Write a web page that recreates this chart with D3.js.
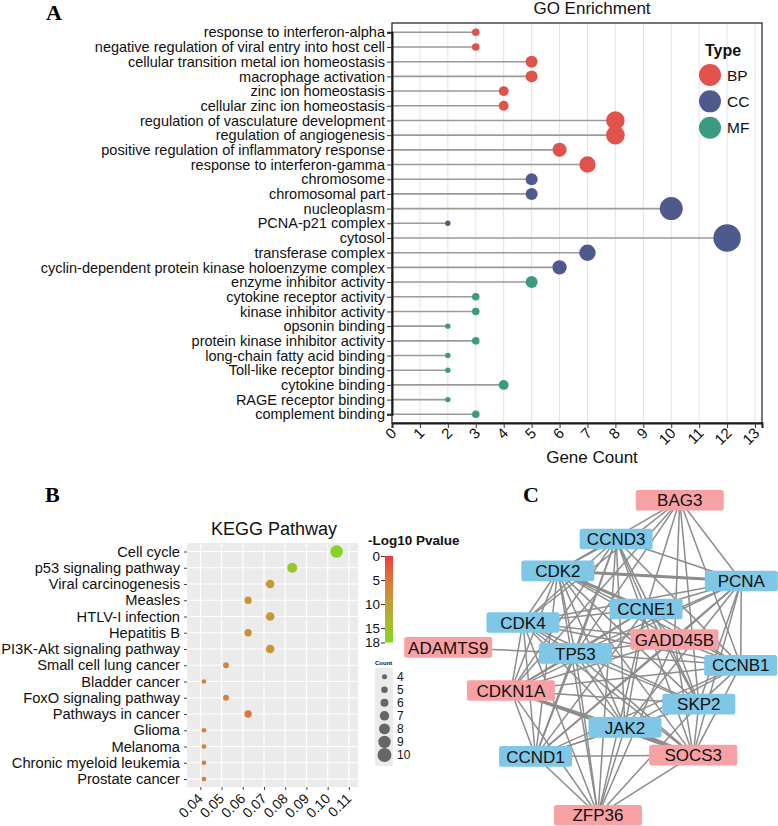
<!DOCTYPE html>
<html><head><meta charset="utf-8">
<script src="https://cdn.jsdelivr.net/npm/d3@7"></script>
<style>
body{margin:0;background:#fff}
svg{display:block}
</style>
</head><body>
<svg id="chart" width="778" height="826"></svg>
<script>
// ---------- Panel A : GO enrichment ----------
const goTerms = [
 "response to interferon-alpha","negative regulation of viral entry into host cell",
 "cellular transition metal ion homeostasis","macrophage activation","zinc ion homeostasis",
 "cellular zinc ion homeostasis","regulation of vasculature development","regulation of angiogenesis",
 "positive regulation of inflammatory response","response to interferon-gamma",
 "chromosome","chromosomal part","nucleoplasm","PCNA-p21 complex","cytosol","transferase complex",
 "cyclin-dependent protein kinase holoenzyme complex",
 "enzyme inhibitor activity","cytokine receptor activity","kinase inhibitor activity","opsonin binding",
 "protein kinase inhibitor activity","long-chain fatty acid binding","Toll-like receptor binding",
 "cytokine binding","RAGE receptor binding","complement binding"];
const goCounts = [3,3,5,5,4,4,8,8,6,7, 5,5,10,2,12,7,6, 5,3,3,2,3,2,2,4,2,3];
const goTypes = ["BP","BP","BP","BP","BP","BP","BP","BP","BP","BP",
 "CC","CC","CC","CC","CC","CC","CC",
 "MF","MF","MF","MF","MF","MF","MF","MF","MF","MF"];
const goTypeNames = ["BP","CC","MF"];
const goTypeColors = ["#E0524A","#4E5A8D","#3A9B82"];
const goXTicks = [0,1,2,3,4,5,6,7,8,9,10,11,12,13];

// ---------- Panel B : KEGG ----------
const keggPathways = ["Cell cycle","p53 signaling pathway","Viral carcinogenesis","Measles","HTLV-I infection",
 "Hepatitis B","PI3K-Akt signaling pathway","Small cell lung cancer","Bladder cancer","FoxO signaling pathway",
 "Pathways in cancer","Glioma","Melanoma","Chronic myeloid leukemia","Prostate cancer"];
const keggRatio = [0.1042,0.0833,0.0729,0.0625,0.0729,0.0625,0.0729,0.0521,0.0417,0.0521,0.0625,0.0417,0.0417,0.0417,0.0417];
const keggCount = [10,8,7,6,7,6,7,5,4,5,6,4,4,4,4];
const keggLogP  = [17.5,15.8,9.2,8.2,8.8,8.0,8.6,7.0,6.0,6.4,5.0,5.6,5.6,5.6,5.6];
const keggXTicks = [0.04,0.05,0.06,0.07,0.08,0.09,0.10,0.11];
const keggColorTicks = [0,5,10,15,18];
const keggCountTicks = [4,5,6,7,8,9,10];

// ---------- Panel C : PPI network ----------
const netGenes = ["BAG3","CCND3","CDK2","PCNA","CCNE1","CDK4","GADD45B","ADAMTS9","TP53","CCNB1",
 "CDKN1A","SKP2","JAK2","CCND1","SOCS3","ZFP36"];
const netGroup = ["down","up","up","up","up","up","down","down","up","up","down","up","up","up","down","down"];
// layout units (0-100 grid)
const netLayoutX = [79,57.3,37.4,100,67.5,25.5,77.2,0,43.4,99.8,21.4,85.5,60.3,29.8,83.6,51.1];
const netLayoutY = [0,12.3,22.4,25.6,34.5,38.8,44.2,46.7,48.6,52.4,60.4,64.7,72.1,81.3,80.9,100];
const netEdges = [
 ["CDK2","CDK4",1],["CDK2","CCND1",1],["CDK2","CCND3",1],["CDK2","CCNE1",2],["CDK2","CCNB1",1],["CDK2","PCNA",2],
 ["CDK2","TP53",1],["CDK2","CDKN1A",1],["CDK2","SKP2",1],["CDK2","GADD45B",1],
 ["CDK4","CCND1",1],["CDK4","CCND3",1],["CDK4","CCNE1",1],["CDK4","CCNB1",1],["CDK4","PCNA",1],["CDK4","TP53",1],
 ["CDK4","CDKN1A",1],["CDK4","SKP2",1],["CDK4","GADD45B",1],
 ["CCND1","CCND3",1],["CCND1","CCNE1",1],["CCND1","CCNB1",1],["CCND1","PCNA",1],["CCND1","TP53",1],["CCND1","CDKN1A",1],
 ["CCND1","SKP2",1],["CCND1","GADD45B",1],
 ["CCND3","CCNE1",1],["CCND3","CCNB1",1],["CCND3","PCNA",1],["CCND3","TP53",1],["CCND3","CDKN1A",1],["CCND3","SKP2",1],
 ["CCNE1","CCNB1",1],["CCNE1","PCNA",1],["CCNE1","TP53",1],["CCNE1","CDKN1A",1],["CCNE1","SKP2",1],["CCNE1","GADD45B",1],
 ["CCNB1","PCNA",1],["CCNB1","TP53",1],["CCNB1","CDKN1A",1],["CCNB1","SKP2",1],["CCNB1","GADD45B",1],
 ["PCNA","TP53",1],["PCNA","CDKN1A",1],["PCNA","SKP2",1],["PCNA","GADD45B",1],
 ["TP53","CDKN1A",1],["TP53","SKP2",1],["TP53","GADD45B",1],
 ["CDKN1A","SKP2",1],["CDKN1A","GADD45B",1],["SKP2","GADD45B",1],
 ["BAG3","CDK2",1],["BAG3","CDK4",1],["BAG3","TP53",1],["BAG3","CCNE1",1],["BAG3","PCNA",1],["BAG3","CCNB1",1],
 ["BAG3","CDKN1A",1],["BAG3","SKP2",1],["BAG3","GADD45B",1],
 ["ADAMTS9","TP53",1],
 ["JAK2","TP53",1],["JAK2","SOCS3",2],["JAK2","CCND1",1],["JAK2","CDKN1A",1],["JAK2","CCND3",1],["JAK2","CDK4",1],
 ["JAK2","CDK2",1],["JAK2","CCNE1",1],["JAK2","PCNA",1],["JAK2","SKP2",1],["JAK2","CCNB1",1],["JAK2","ZFP36",1],
 ["SOCS3","TP53",1],["SOCS3","CCND1",1],["SOCS3","CDKN1A",2],["SOCS3","CCND3",1],["SOCS3","CDK2",1],["SOCS3","CDK4",1],
 ["SOCS3","PCNA",1],["SOCS3","CCNB1",1],["SOCS3","SKP2",1],["SOCS3","ZFP36",1],["SOCS3","GADD45B",1],
 ["ZFP36","TP53",1],["ZFP36","CDKN1A",1],["ZFP36","CCND1",1],["ZFP36","CDK4",1],["ZFP36","CDK2",1],
 ["ZFP36","CCND3",1],["ZFP36","GADD45B",1],["ZFP36","CCNE1",1],["ZFP36","SKP2",1]
];

const sans = '"Liberation Sans",Arial,Helvetica,sans-serif';
const serif = '"Liberation Serif","Times New Roman",serif';
const svg = d3.select("#chart").style("font-family",sans);
svg.append("rect").attr("width",778).attr("height",826).attr("fill","#fff");

function styleText(sel,size){
  sel.attr("font-size",size).attr("fill","#111").attr("font-family",sans);
}

// ================= Panel A =================
(function(){
  const L=392, R=762, T=23, B=423;
  const x = d3.scaleLinear().domain([0,13.25]).range([L,R]);
  const y = d3.scalePoint().domain(goTerms).range([32.3,414.3]);
  const r = d3.scaleLinear().domain([2,12]).range([2.7,13.7]);
  const col = d3.scaleOrdinal().domain(goTypeNames).range(goTypeColors);
  const g = svg.append("g");

  g.append("text").attr("x",46).attr("y",20).attr("font-family",serif).attr("font-weight","bold")
    .attr("font-size",22).text("A");
  g.append("text").attr("x",592).attr("y",13.5).attr("text-anchor","middle").attr("font-size",17)
    .attr("fill","#111").text("GO Enrichment");

  g.selectAll("line.grid").data(goXTicks.filter(d=>d>0)).join("line")
    .attr("x1",d=>x(d)).attr("x2",d=>x(d)).attr("y1",T).attr("y2",B)
    .attr("stroke","#e3e3e3").attr("stroke-width",1);

  g.selectAll("line.stem").data(goTerms).join("line")
    .attr("x1",x(0)).attr("x2",(d,i)=>x(goCounts[i]))
    .attr("y1",d=>y(d)).attr("y2",d=>y(d))
    .attr("stroke","#9a9a9a").attr("stroke-width",1.6);

  g.selectAll("circle.dot").data(goTerms).join("circle")
    .attr("cx",(d,i)=>x(goCounts[i])).attr("cy",d=>y(d)).attr("r",(d,i)=>r(goCounts[i]))
    .attr("fill",(d,i)=>col(goTypes[i]));

  g.append("rect").attr("x",L).attr("y",T).attr("width",R-L).attr("height",B-T)
    .attr("fill","none").attr("stroke","#1a1a1a").attr("stroke-width",1.2);

  const ya = g.append("g").attr("transform",`translate(${L},0)`)
    .call(d3.axisLeft(y).tickSize(5).tickPadding(2));
  ya.select(".domain").attr("stroke","#1a1a1a").attr("stroke-width",2);
  ya.selectAll(".tick line").attr("stroke","#333");
  styleText(ya.selectAll("text"),14.5);

  const xa = g.append("g").attr("transform",`translate(0,${B})`)
    .call(d3.axisBottom(x).tickValues(goXTicks).tickSize(5).tickFormat(d3.format("d")));
  xa.select(".domain").attr("stroke","#1a1a1a").attr("stroke-width",2);
  xa.selectAll(".tick line").attr("stroke","#333");
  styleText(xa.selectAll("text"),15);
  xa.selectAll("text").attr("x",0).attr("y",0).attr("dy",null)
    .attr("transform","translate(5,11) rotate(-45)").attr("text-anchor","end");

  g.append("text").attr("x",592).attr("y",463).attr("text-anchor","middle")
    .attr("font-size",17).attr("fill","#111").text("Gene Count");

  const lg = g.append("g");
  lg.append("text").attr("x",705).attr("y",56).attr("font-weight","bold").attr("font-size",16)
    .attr("fill","#111").text("Type");
  const ly = d3.scalePoint().domain(goTypeNames).range([75,127.7]);
  lg.selectAll("circle").data(goTypeNames).join("circle")
    .attr("cx",710).attr("cy",d=>ly(d)).attr("r",11).attr("fill",d=>col(d));
  lg.selectAll("text.lab").data(goTypeNames).join("text").attr("class","lab")
    .attr("x",727).attr("y",d=>ly(d)).attr("dy","0.36em").attr("font-size",15.5)
    .attr("fill","#111").text(d=>d);
})();

// ================= Panel B =================
(function(){
  const L=187, R=358, T=543, B=787;
  const x = d3.scaleLinear().domain([0.0337,0.1143]).range([L,R]);
  const y = d3.scalePoint().domain(keggPathways).range([551.5,779]);
  const r = d3.scaleLinear().domain([4,10]).range([2.3,6.3]);
  const c = d3.scaleLinear().domain([0,18]).range(["#EE3540","#7FD620"]).interpolate(d3.interpolateLab);
  const g = svg.append("g");

  g.append("text").attr("x",45).attr("y",502).attr("font-family",serif).attr("font-weight","bold")
    .attr("font-size",22).text("B");
  g.append("text").attr("x",274).attr("y",535).attr("text-anchor","middle").attr("font-size",18)
    .attr("fill","#111").text("KEGG Pathway");

  g.append("rect").attr("x",L).attr("y",T).attr("width",R-L).attr("height",B-T).attr("fill","#EBEBEB");
  g.selectAll("line.vg").data(keggXTicks).join("line")
    .attr("x1",d=>x(d)).attr("x2",d=>x(d)).attr("y1",T).attr("y2",B)
    .attr("stroke","#fff").attr("stroke-width",1.1);
  g.selectAll("line.hg").data(keggPathways).join("line")
    .attr("x1",L).attr("x2",R).attr("y1",d=>y(d)).attr("y2",d=>y(d))
    .attr("stroke","#fff").attr("stroke-width",1.1);

  g.selectAll("circle.dot").data(keggPathways).join("circle")
    .attr("cx",(d,i)=>x(keggRatio[i])).attr("cy",d=>y(d)).attr("r",(d,i)=>r(keggCount[i]))
    .attr("fill",(d,i)=>c(keggLogP[i]));

  const ya = g.append("g").attr("transform",`translate(${L},0)`)
    .call(d3.axisLeft(y).tickSize(3).tickPadding(4));
  ya.select(".domain").remove();
  ya.selectAll(".tick line").attr("stroke","#444");
  styleText(ya.selectAll("text"),14.7);

  const xa = g.append("g").attr("transform",`translate(0,${B})`)
    .call(d3.axisBottom(x).tickValues(keggXTicks).tickSize(3).tickFormat(d3.format(".2f")));
  xa.select(".domain").remove();
  xa.selectAll(".tick line").attr("stroke","#444");
  styleText(xa.selectAll("text"),14);
  xa.selectAll("text").attr("x",0).attr("y",0).attr("dy",null)
    .attr("transform","translate(3,12.5) rotate(-45)").attr("text-anchor","end");

  const defs = svg.append("defs");
  const grad = defs.append("linearGradient").attr("id","kgrad").attr("x1",0).attr("x2",0).attr("y1",0).attr("y2",1);
  d3.range(0,1.0001,0.1).forEach(t=>grad.append("stop").attr("offset",t).attr("stop-color",c(t*18)));
  const cy = d3.scaleLinear().domain([0,18]).range([556,642.5]);
  g.append("text").attr("x",368).attr("y",545).attr("font-weight","bold").attr("font-size",13.5)
    .attr("fill","#111").text("-Log10 Pvalue");
  g.append("rect").attr("x",385).attr("y",cy(0)).attr("width",8).attr("height",cy(18)-cy(0))
    .attr("fill","url(#kgrad)");
  const ca = g.append("g").attr("transform","translate(385,0)")
    .call(d3.axisLeft(cy).tickValues(keggColorTicks).tickSize(4).tickPadding(1));
  ca.select(".domain").remove();
  ca.selectAll(".tick line").attr("stroke","#333");
  styleText(ca.selectAll("text"),13.5);

  const sy = d3.scalePoint().domain(keggCountTicks).range([676.7,755]);
  g.append("text").attr("x",375).attr("y",665).attr("font-weight","bold").attr("font-size",6)
    .attr("fill","#111").text("Count");
  g.append("rect").attr("x",375).attr("y",668).attr("width",18).attr("height",98).attr("fill","#EBEBEB");
  g.selectAll("circle.sz").data(keggCountTicks).join("circle")
    .attr("cx",384.5).attr("cy",d=>sy(d)).attr("r",d=>r(d)*1.1).attr("fill","#666");
  g.selectAll("text.sz").data(keggCountTicks).join("text")
    .attr("x",397).attr("y",d=>sy(d)).attr("dy","0.36em").attr("font-size",12)
    .attr("fill","#111").text(d=>d);
})();

// ================= Panel C =================
(function(){
  const g = svg.append("g");
  g.append("text").attr("x",523).attr("y",502).attr("font-family",serif).attr("font-weight","bold")
    .attr("font-size",22).text("C");
  const nx = d3.scaleLinear().domain([0,100]).range([448.2,741.3]);
  const ny = d3.scaleLinear().domain([0,100]).range([500.3,815.3]);
  const idx = new Map(netGenes.map((d,i)=>[d,i]));
  const fill = d3.scaleOrdinal().domain(["up","down"]).range(["#7EC7E6","#F7A1A5"]);
  const bw = d3.scaleOrdinal().domain(["up","down"]).range([73,88]);

  g.selectAll("line.edge").data(netEdges).join("line")
    .attr("x1",d=>nx(netLayoutX[idx.get(d[0])])).attr("y1",d=>ny(netLayoutY[idx.get(d[0])]))
    .attr("x2",d=>nx(netLayoutX[idx.get(d[1])])).attr("y2",d=>ny(netLayoutY[idx.get(d[1])]))
    .attr("stroke","#8c8c8c").attr("stroke-width",d=>d[2]===2?3:1.5);

  const node = g.selectAll("g.node").data(netGenes).join("g")
    .attr("transform",(d,i)=>`translate(${nx(netLayoutX[i])},${ny(netLayoutY[i])})`);
  node.append("rect")
    .attr("x",(d,i)=>-bw(netGroup[i])/2).attr("y",-10.3)
    .attr("width",(d,i)=>bw(netGroup[i])).attr("height",20.6).attr("rx",2.5)
    .attr("fill",(d,i)=>fill(netGroup[i]));
  node.append("text").attr("text-anchor","middle").attr("dy","0.36em").attr("font-size",17)
    .attr("fill","#111").text(d=>d);
})();
</script>
</body></html>
